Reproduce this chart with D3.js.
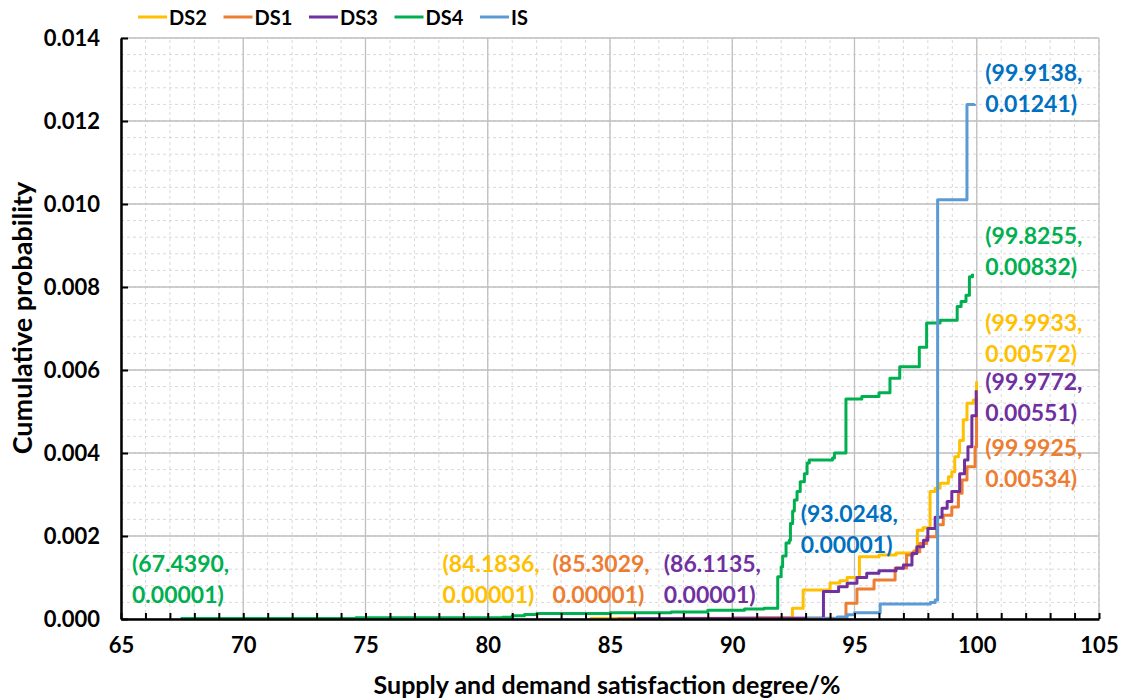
<!DOCTYPE html>
<html>
<head>
<meta charset="utf-8">
<script src="https://cdn.jsdelivr.net/npm/d3@7/dist/d3.min.js"></script>
<style>
  body { margin: 0; background: #fff; }
  svg { font-family: Lato, "Open Sans", sans-serif; font-weight: bold; }
</style>
</head>
<body>
<svg id="chart" width="1129" height="700"></svg>
<script>
// series data (x = supply/demand satisfaction %, y = cumulative probability)
const ds2X = [84.1836, 88.0, 91.0, 92.46, 92.9, 94.0, 94.4, 94.7, 95.2, 96.0, 96.7, 97.47, 97.57, 97.8, 98.09, 98.3, 98.5, 98.84, 98.98, 99.1, 99.25, 99.3, 99.45, 99.6, 99.86, 99.9933];
const ds2Y = [0.00001, 0.00002, 0.00003, 0.00026, 0.0007, 0.00087, 0.00092, 0.001, 0.0015, 0.00154, 0.00159, 0.00166, 0.00214, 0.0022, 0.00307, 0.00315, 0.00327, 0.00343, 0.00355, 0.00391, 0.004, 0.0043, 0.0048, 0.0052, 0.00528, 0.00572];

const ds1X = [85.3029, 90.0, 94.65, 95.1, 95.8, 96.66, 97.13, 97.4, 97.67, 97.95, 98.36, 98.63, 98.98, 99.25, 99.4, 99.6, 99.93, 99.9925];
const ds1Y = [0.00001, 0.00002, 0.00038, 0.00072, 0.00094, 0.00123, 0.00154, 0.00162, 0.00182, 0.00198, 0.00227, 0.0025, 0.0027, 0.00303, 0.00335, 0.00367, 0.00415, 0.00534];

const ds3X = [86.1135, 90.0, 93.73, 94.35, 94.7, 95.1, 95.5, 96.0, 96.7, 97.0, 97.35, 97.55, 97.82, 98.0, 98.3, 98.58, 98.79, 98.98, 99.3, 99.5, 99.64, 99.8, 99.9772];
const ds3Y = [0.00001, 0.00002, 0.00066, 0.00078, 0.00086, 0.001, 0.0011, 0.00116, 0.00122, 0.0013, 0.00158, 0.00174, 0.0019, 0.00218, 0.00245, 0.00267, 0.00283, 0.00307, 0.0035, 0.00383, 0.00415, 0.0049, 0.00551];

const ds4X = [67.439, 74.6, 80.6, 81.0, 81.5, 82.0, 85.0, 87.5, 89.0, 90.5, 91.3, 91.86, 92.0, 92.06, 92.2, 92.33, 92.38, 92.47, 92.54, 92.65, 92.78, 92.95, 93.06, 93.15, 94.1, 94.18, 94.65, 95.3, 96.0, 96.45, 96.85, 97.65, 97.95, 98.5, 99.2, 99.36, 99.56, 99.7, 99.8255];
const ds4Y = [0.00001, 0.00003, 0.00004, 0.00008, 0.00011, 0.00013, 0.00015, 0.00017, 0.00021, 0.00024, 0.00026, 0.00102, 0.00126, 0.00152, 0.00183, 0.0019, 0.0023, 0.0026, 0.00287, 0.00307, 0.00331, 0.0035, 0.00376, 0.00383, 0.00388, 0.004, 0.0053, 0.00536, 0.00545, 0.0058, 0.00608, 0.00655, 0.00713, 0.0072, 0.00753, 0.00765, 0.0078, 0.00825, 0.00832];

const isX = [93.0248, 94.3, 94.7, 95.0, 96.05, 98.1, 98.3, 98.4, 99.6, 99.9138];
const isY = [0.00001, 0.00005, 0.0001, 0.00015, 0.00036, 0.0004, 0.00046, 0.0101, 0.0124, 0.01241];

const seriesNames = ["DS2", "DS1", "DS3", "DS4", "IS"];
const seriesColors = ["#FFC000", "#ED7D31", "#7030A0", "#00B050", "#5B9BD5"];

// point labels: text lines, anchor position in data units
const labelTexts = [
  ["(99.9138,", "0.01241)"], ["(99.8255,", "0.00832)"], ["(99.9933,", "0.00572)"],
  ["(99.9772,", "0.00551)"], ["(99.9925,", "0.00534)"], ["(93.0248,", "0.00001)"],
  ["(67.4390,", "0.00001)"], ["(84.1836,", "0.00001)"], ["(85.3029,", "0.00001)"],
  ["(86.1135,", "0.00001)"]
];
const labelX = [100.35, 100.35, 100.35, 100.35, 100.35, 92.8, 65.45, 78.15, 82.65, 87.2];
const labelY = [0.01296, 0.00903, 0.00693, 0.00553, 0.00392, 0.00233, 0.00113, 0.00113, 0.00113, 0.00113];
const labelColors = ["#0070C0", "#00B050", "#FFC000", "#7030A0", "#ED7D31", "#0070C0", "#00B050", "#FFC000", "#ED7D31", "#7030A0"];

const xMajor = d3.range(65, 106, 5);
const xMinor = d3.range(65, 106, 1);
const yMajor = d3.range(0, 0.01401, 0.002);
const yMinor = d3.range(0, 0.01401, 0.0004);

const svg = d3.select("#chart");
const x = d3.scaleLinear().domain([65, 105]).range([121, 1099]);
const y = d3.scaleLinear().domain([0, 0.014]).range([619, 38]);

// grid
const grid = svg.append("g");
grid.selectAll(".vminor").data(xMinor).enter().append("line")
  .attr("x1", d => x(d)).attr("x2", d => x(d)).attr("y1", y(0)).attr("y2", y(0.014))
  .attr("stroke", "#d9d9d9").attr("stroke-width", 1).attr("stroke-dasharray", "3,3");
grid.selectAll(".hminor").data(yMinor).enter().append("line")
  .attr("y1", d => y(d)).attr("y2", d => y(d)).attr("x1", x(65)).attr("x2", x(105))
  .attr("stroke", "#d9d9d9").attr("stroke-width", 1).attr("stroke-dasharray", "3,3");
grid.selectAll(".vmajor").data(xMajor).enter().append("line")
  .attr("x1", d => x(d)).attr("x2", d => x(d)).attr("y1", y(0)).attr("y2", y(0.014))
  .attr("stroke", "#bfbfbf").attr("stroke-width", 1.3);
grid.selectAll(".hmajor").data(yMajor).enter().append("line")
  .attr("y1", d => y(d)).attr("y2", d => y(d)).attr("x1", x(65)).attr("x2", x(105))
  .attr("stroke", "#bfbfbf").attr("stroke-width", 1.3);

// series
const xs = [ds2X, ds1X, ds3X, ds4X, isX];
const ys = [ds2Y, ds1Y, ds3Y, ds4Y, isY];
const line = d3.line().x(d => x(d[0])).y(d => y(d[1])).curve(d3.curveStepAfter);
seriesNames.forEach((name, i) => {
  const pts = xs[i].map((v, j) => [v, ys[i][j]]);
  svg.append("path")
    .datum(pts)
    .attr("fill", "none")
    .attr("stroke", seriesColors[i])
    .attr("stroke-width", 3)
    .attr("stroke-linejoin", "round")
    .attr("d", line);
});

// axes
const xAxis = svg.append("g").attr("transform", "translate(0," + y(0) + ")")
  .call(d3.axisBottom(x).tickValues(xMinor).tickSize(-6).tickSizeOuter(0).tickFormat(""));
xAxis.select(".domain").attr("stroke", "#000").attr("stroke-width", 2.5);
xAxis.selectAll(".tick line").attr("stroke", "#000").attr("stroke-width", 2);

const xLabels = svg.append("g").attr("transform", "translate(0," + y(0) + ")")
  .call(d3.axisBottom(x).tickValues(xMajor).tickSize(0).tickPadding(18));
xLabels.select(".domain").remove();
xLabels.selectAll("text").attr("font-size", 22).attr("font-family", "Lato").attr("font-weight", "bold").attr("fill", "#000");

const yAxis = svg.append("g").attr("transform", "translate(" + x(65) + ",0)")
  .call(d3.axisLeft(y).tickValues(yMajor).tickSize(-7).tickSizeOuter(0).tickPadding(21).tickFormat(d3.format(".3f")));
yAxis.select(".domain").attr("stroke", "#000").attr("stroke-width", 2.5);
yAxis.selectAll(".tick line").attr("stroke", "#000").attr("stroke-width", 2);
yAxis.selectAll("text").attr("font-size", 22).attr("font-family", "Lato").attr("font-weight", "bold").attr("fill", "#000");

// axis titles
svg.append("text")
  .attr("x", 607).attr("y", 694)
  .attr("text-anchor", "middle").attr("font-size", 25)
  .text("Supply and demand satisfaction degree/%");
svg.append("text")
  .attr("transform", "translate(32,318) rotate(-90)")
  .attr("text-anchor", "middle").attr("font-size", 27)
  .text("Cumulative probability");

// point labels
labelTexts.forEach((lines, i) => {
  const t = svg.append("text")
    .attr("x", x(labelX[i])).attr("y", y(labelY[i]))
    .attr("fill", labelColors[i]).attr("font-size", 23);
  lines.forEach((s, k) => {
    t.append("tspan").attr("x", x(labelX[i])).attr("dy", k === 0 ? 0 : 31).text(s);
  });
});

// legend
const legend = svg.append("g").attr("transform", "translate(138,17)");
const item = legend.selectAll("g").data(seriesNames).enter().append("g")
  .attr("transform", (d, i) => "translate(" + (i * 85.5) + ",0)");
item.append("line").attr("x1", 0).attr("x2", 29).attr("y1", 0).attr("y2", 0)
  .attr("stroke", (d, i) => seriesColors[i]).attr("stroke-width", 3);
item.append("text").attr("x", 31).attr("y", 8).attr("font-size", 20).attr("fill", "#000").text(d => d);
</script>
</body>
</html>
